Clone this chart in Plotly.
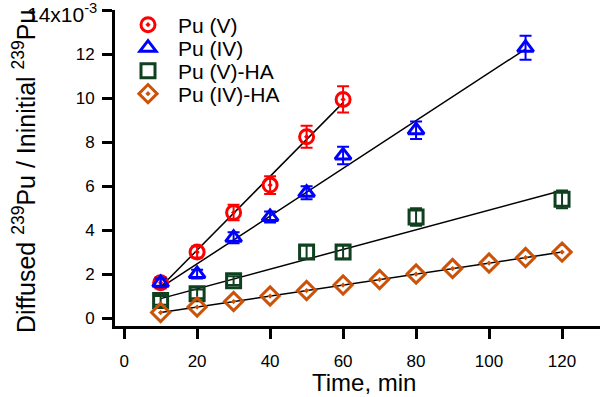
import numpy as np
import plotly.graph_objects as go

# ---- data ----
x_pu5 = [10, 20, 30, 40, 50, 60]
y_pu5 = [1.6, 3.0, 4.8, 6.05, 8.25, 9.95]
e_pu5 = [0.25, 0.25, 0.35, 0.4, 0.5, 0.6]

x_pu4 = [10, 20, 30, 40, 50, 60, 80, 110]
y_pu4 = [1.6, 2.0, 3.65, 4.6, 5.7, 7.4, 8.55, 12.3]
e_pu4 = [0.2, 0.2, 0.25, 0.25, 0.3, 0.4, 0.4, 0.55]

x_pu5ha = [10, 20, 30, 50, 60, 80, 120]
y_pu5ha = [0.8, 1.1, 1.7, 3.0, 3.0, 4.6, 5.4]
e_pu5ha = [0.2, 0.2, 0.2, 0.3, 0.3, 0.4, 0.4]

x_pu4ha = [10, 20, 30, 40, 50, 60, 70, 80, 90, 100, 110, 120]
y_pu4ha = [0.25, 0.5, 0.75, 1.0, 1.25, 1.5, 1.75, 2.0, 2.25, 2.5, 2.75, 3.0]

y_tickvals = [0, 2, 4, 6, 8, 10, 12, 14]
y_ticktext = ["0", "2", "4", "6", "8", "10", "12", ""]
y_top_label = "14x10<sup>-3</sup>"
x_tickvals = [0, 20, 40, 60, 80, 100, 120]

series = [
    ("Pu (V)", x_pu5, y_pu5, e_pu5, "#ff0000", "circle-open-dot"),
    ("Pu (IV)", x_pu4, y_pu4, e_pu4, "#0000ff", "triangle-up-open"),
    ("Pu (V)-HA", x_pu5ha, y_pu5ha, e_pu5ha, "#0f4020", "square-open"),
    ("Pu (IV)-HA", x_pu4ha, y_pu4ha, None, "#cc5208", "diamond-open-dot"),
]
legend_ids = ["legend", "legend2", "legend3", "legend4"]
legend_rows_px = [25, 48, 71, 94]

L, R, T, B = 115, 0, 10, 71
W, H = 600, 397
pw = W - L - R
ph = H - T - B

fig = go.Figure()

# fit lines (least squares through each series)
for name, xs, ys, es, col, sym in series:
    p = np.polyfit(xs, ys, 1)
    xf = [min(xs), max(xs)]
    fig.add_trace(go.Scatter(x=xf, y=list(np.polyval(p, xf)), mode="lines",
                             line=dict(color="black", width=1.5),
                             showlegend=False, hoverinfo="skip"))

for (name, xs, ys, es, col, sym), lid in zip(series, legend_ids):
    kw = {}
    if es is not None:
        kw["error_y"] = dict(type="data", array=es, visible=True, color=col,
                             thickness=2, width=6)
    fig.add_trace(go.Scatter(x=xs, y=ys, mode="markers", name=name, legend=lid,
                             marker=dict(symbol=sym, size=14, color=col,
                                         line=dict(color=col, width=3)),
                             **kw))

legends = {}
for lid, ry in zip(legend_ids, legend_rows_px):
    legends[lid] = dict(x=(118 - L) / pw, y=1 - (ry - T) / ph, xanchor="left", yanchor="middle",
                        bgcolor="rgba(0,0,0,0)", font=dict(size=21), itemwidth=50)

fig.update_layout(
    width=W, height=H,
    margin=dict(l=L, r=R, t=T, b=B),
    paper_bgcolor="white", plot_bgcolor="white",
    font=dict(family="Arial, Liberation Sans, sans-serif", color="black", size=17),
    showlegend=True,
    **legends,
    xaxis=dict(range=[-2.5, 130.4], tickvals=x_tickvals, showgrid=False, zeroline=False,
               showline=True, linecolor="black", linewidth=3, automargin=False,
               ticks="outside", ticklen=10, tickwidth=3, tickcolor="black",
               ticklabelstandoff=8, tickfont=dict(size=17)),
    yaxis=dict(range=[-0.364, 14.02], tickvals=y_tickvals, ticktext=y_ticktext,
               showgrid=False, zeroline=False, automargin=False,
               showline=True, linecolor="black", linewidth=3,
               ticks="outside", ticklen=10, tickwidth=3, tickcolor="black",
               ticklabelstandoff=4, tickfont=dict(size=17)),
    annotations=[
        dict(text=y_top_label, xref="paper", yref="paper",
             x=(99 - L) / pw, y=1 - (13 - T) / ph, xanchor="right", yanchor="middle",
             showarrow=False, font=dict(size=21)),
        dict(text="Time, min", xref="paper", yref="paper",
             x=(364 - L) / pw, y=-(382 - (T + ph)) / ph, xanchor="center", yanchor="middle",
             showarrow=False, font=dict(size=24)),
        dict(text="Diffused <sup>239</sup>Pu / Ininitial <sup>239</sup>Pu",
             xref="paper", yref="paper", textangle=-90,
             x=(24 - L) / pw, y=1 - (172 - T) / ph, xanchor="center", yanchor="middle",
             showarrow=False, font=dict(size=25)),
    ],
)

fig.write_html("out.html", config={"displayModeBar": False},
               post_script="document.body.style.margin='0px';")
